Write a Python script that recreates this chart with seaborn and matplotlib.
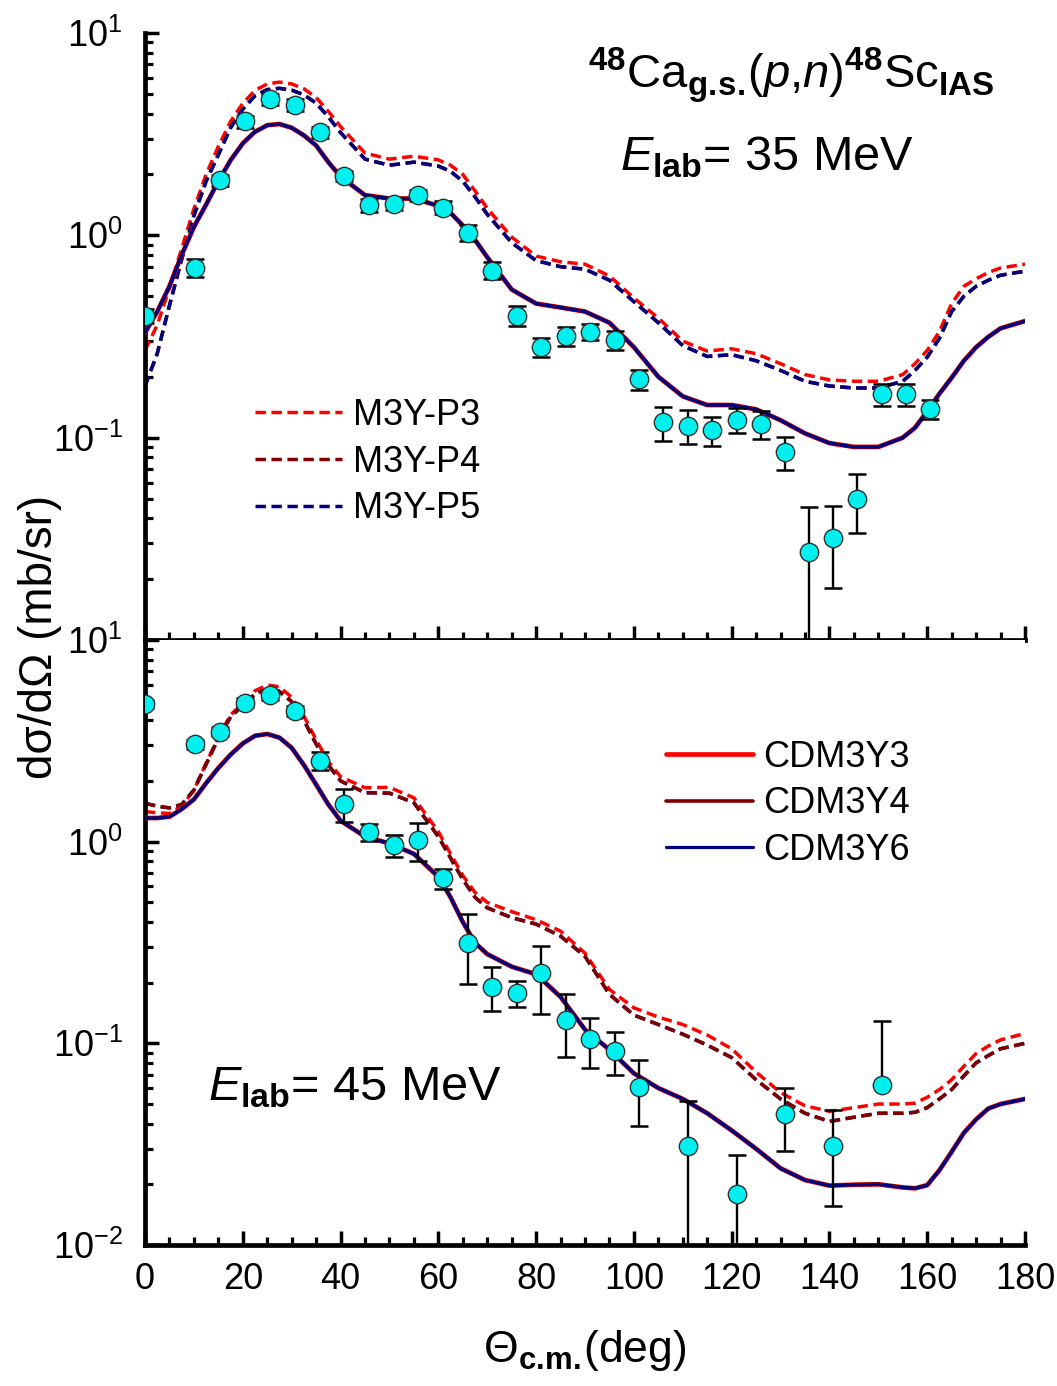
import numpy as np
import pandas as pd
import matplotlib
matplotlib.use('Agg')
import matplotlib.pyplot as plt
import seaborn as sns
from matplotlib.ticker import FixedLocator, LogLocator, NullFormatter, MultipleLocator, FixedFormatter
from matplotlib.lines import Line2D

sns.set_theme(style='ticks')
plt.rcParams['font.family'] = ['Liberation Sans', 'DejaVu Sans']
plt.rcParams['mathtext.fontset'] = 'custom'
plt.rcParams['mathtext.rm'] = 'Liberation Sans'
plt.rcParams['mathtext.it'] = 'Liberation Sans:italic'
plt.rcParams['mathtext.bf'] = 'Liberation Sans:bold'
plt.rcParams['text.color'] = 'black'

# ---------------- data: 35 MeV (top panel) ----------------
theta_35 = [0.0, 10.2, 15.3, 20.4, 25.5, 30.6, 35.7, 40.8, 45.8, 50.9, 55.9, 61.0,
            66.0, 71.0, 76.1, 81.1, 86.1, 91.1, 96.1, 101.1, 106.0, 111.0, 116.0,
            121.0, 125.9, 130.9, 135.8, 140.8, 145.7, 150.7, 155.6, 160.5]
xs_35 = [0.40, 0.69, 1.87, 3.66, 4.70, 4.40, 3.24, 1.97, 1.41, 1.43, 1.58, 1.37,
         1.03, 0.67, 0.40, 0.28, 0.318, 0.333, 0.304, 0.195, 0.119, 0.1146, 0.109,
         0.1225, 0.117, 0.0848, 0.0273, 0.0321, 0.0498, 0.164, 0.164, 0.139]
err_35 = [0.03, 0.07, 0.12, 0.25, 0.30, 0.30, 0.20, 0.12, 0.10, 0.10, 0.10, 0.10,
          0.09, 0.065, 0.045, 0.03, 0.033, 0.03, 0.034, 0.022, 0.0226, 0.022, 0.018,
          0.017, 0.018, 0.0155, 0.018, 0.014, 0.016, 0.02, 0.02, 0.015]

# ---------------- data: 45 MeV (bottom panel) ----------------
theta_45 = [0.0, 10.2, 15.3, 20.4, 25.5, 30.6, 35.7, 40.8, 45.8, 50.9, 55.9, 61.0,
            66.0, 71.0, 76.1, 81.1, 86.1, 91.1, 96.1, 101.1, 111.0, 121.0, 130.9,
            140.8, 150.7]
xs_45 = [4.82, 3.04, 3.51, 4.89, 5.33, 4.46, 2.52, 1.54, 1.12, 0.963, 1.02, 0.659,
         0.316, 0.191, 0.177, 0.222, 0.1306, 0.1047, 0.092, 0.061, 0.0308, 0.0179,
         0.0447, 0.0311, 0.0622]
err_45_lo = [0.2, 0.15, 0.18, 0.25, 0.3, 0.25, 0.25, 0.29, 0.11, 0.12, 0.22, 0.075,
             0.12, 0.047, 0.026, 0.083, 0.045, 0.029, 0.022, 0.022, 0.0212, 0.0101,
             0.0153, 0.0155, 0.0]
err_45_hi = [0.2, 0.15, 0.18, 0.25, 0.3, 0.25, 0.25, 0.29, 0.11, 0.12, 0.22, 0.075,
             0.12, 0.047, 0.026, 0.083, 0.045, 0.029, 0.022, 0.022, 0.0212, 0.0101,
             0.0153, 0.0155, 0.0664]

# ---------------- model curves ----------------
theta_c = [0, 2.5, 5, 7.5, 10, 12.5, 15, 17.5, 20, 22.5, 25, 27.5, 30, 32.5, 35, 37.5,
           40, 45, 50, 55, 60, 62.5, 65, 67.5, 70, 75, 80, 85, 90, 95, 100, 105, 110,
           115, 120, 125, 130, 135, 140, 145, 150, 155, 157.5, 160, 162.5, 165, 167.5,
           170, 172.5, 175, 180]

# 35 MeV
p3_35 = [0.27, 0.36, 0.55, 0.86, 1.35, 2.0, 2.75, 3.65, 4.50, 5.20, 5.60, 5.72, 5.60,
         5.30, 4.80, 4.10, 3.45, 2.55, 2.38, 2.46, 2.36, 2.22, 2.00, 1.66, 1.36, 0.98,
         0.79, 0.74, 0.72, 0.63, 0.49, 0.39, 0.30, 0.268, 0.275, 0.26, 0.232, 0.205,
         0.193, 0.19, 0.19, 0.205, 0.232, 0.27, 0.335, 0.46, 0.56, 0.61, 0.655, 0.69,
         0.72]
p4_35 = [0.18, 0.26, 0.45, 0.76, 1.25, 1.85, 2.50, 3.40, 4.20, 4.90, 5.25, 5.33, 5.22,
         4.95, 4.50, 3.85, 3.22, 2.38, 2.22, 2.30, 2.20, 2.07, 1.85, 1.55, 1.27, 0.92,
         0.75, 0.70, 0.68, 0.60, 0.47, 0.37, 0.285, 0.252, 0.257, 0.24, 0.215, 0.19,
         0.18, 0.176, 0.176, 0.19, 0.215, 0.25, 0.31, 0.42, 0.50, 0.56, 0.60, 0.635,
         0.665]
p5_35 = [0.18, 0.26, 0.45, 0.76, 1.25, 1.85, 2.50, 3.40, 4.20, 4.90, 5.25, 5.33, 5.22,
         4.95, 4.50, 3.85, 3.22, 2.38, 2.22, 2.30, 2.20, 2.07, 1.85, 1.55, 1.27, 0.92,
         0.75, 0.70, 0.68, 0.60, 0.47, 0.37, 0.285, 0.252, 0.257, 0.24, 0.215, 0.19,
         0.18, 0.176, 0.176, 0.19, 0.215, 0.25, 0.31, 0.42, 0.50, 0.56, 0.60, 0.635,
         0.665]
cdm3y3_35 = [0.33, 0.42, 0.56, 0.80, 1.10, 1.42, 1.85, 2.35, 2.85, 3.25, 3.50, 3.55,
             3.40, 3.12, 2.78, 2.30, 1.95, 1.58, 1.52, 1.52, 1.40, 1.29, 1.12, 0.95,
             0.78, 0.54, 0.46, 0.44, 0.42, 0.37, 0.28, 0.20, 0.160, 0.145, 0.145,
             0.138, 0.122, 0.105, 0.094, 0.090, 0.090, 0.100, 0.112, 0.135, 0.165,
             0.198, 0.24, 0.28, 0.315, 0.347, 0.377]
cdm3y4_35 = list(cdm3y3_35)
cdm3y6_35 = list(cdm3y3_35)

# 45 MeV
p3_45 = [1.41, 1.39, 1.38, 1.50, 1.80, 2.45, 3.30, 4.25, 4.85, 5.60, 5.98, 5.86, 5.20,
         4.20, 3.20, 2.50, 2.10, 1.85, 1.86, 1.65, 1.12, 0.87, 0.68, 0.56, 0.50, 0.45,
         0.41, 0.36, 0.28, 0.185, 0.150, 0.135, 0.124, 0.110, 0.094, 0.072, 0.057,
         0.049, 0.046, 0.048, 0.050, 0.050, 0.0505, 0.054, 0.059, 0.066, 0.077, 0.089,
         0.097, 0.104, 0.112]
p4_45 = [1.55, 1.50, 1.47, 1.53, 1.80, 2.42, 3.25, 4.15, 4.75, 5.40, 5.70, 5.55, 4.95,
         4.00, 3.05, 2.40, 2.00, 1.75, 1.74, 1.56, 1.06, 0.83, 0.65, 0.53, 0.47, 0.42,
         0.39, 0.34, 0.27, 0.175, 0.138, 0.124, 0.111, 0.098, 0.085, 0.066, 0.053,
         0.045, 0.041, 0.043, 0.045, 0.045, 0.0455, 0.048, 0.053, 0.059, 0.069, 0.080,
         0.087, 0.094, 0.100]
p5_45 = list(p4_45)
cdm3y3_45 = [1.31, 1.31, 1.33, 1.45, 1.62, 1.95, 2.32, 2.70, 3.07, 3.35, 3.42, 3.28,
             2.92, 2.40, 1.92, 1.53, 1.27, 1.06, 0.98, 0.87, 0.67, 0.53, 0.40, 0.315,
             0.277, 0.24, 0.22, 0.17, 0.117, 0.093, 0.071, 0.060, 0.053, 0.045, 0.037,
             0.030, 0.024, 0.021, 0.0197, 0.0199, 0.0200, 0.0193, 0.0191, 0.0198,
             0.0235, 0.029, 0.036, 0.042, 0.0475, 0.050, 0.053]
cdm3y4_45 = list(cdm3y3_45)
cdm3y6_45 = list(cdm3y3_45)

labels_dash = ['M3Y-P3', 'M3Y-P4', 'M3Y-P5']
labels_solid = ['CDM3Y3', 'CDM3Y4', 'CDM3Y6']
xticks = [0, 20, 40, 60, 80, 100, 120, 140, 160, 180]

RED = '#FF0000'
DRED = '#800000'
NAVY = '#000080'
CYAN = '#00F0F0'
DASH = (0, (3.0, 1.6))

W, H = 1057, 1386
fig = plt.figure(figsize=(W / 100, H / 100), dpi=100)
L, R = 145, 1025
ax1 = fig.add_axes([L / W, 1 - 640 / H, (R - L) / W, (640 - 33) / H])
ax2 = fig.add_axes([L / W, 1 - 1245 / H, (R - L) / W, (1245 - 640) / H])


def draw_panel(ax, p3, p4, p5, c3, c4, c6, dash_order):
    df = pd.DataFrame({'theta': theta_c, 'P3': p3, 'P4': p4, 'P5': p5,
                       'C3': c3, 'C4': c4, 'C6': c6})
    dstyles = {'P3': RED, 'P4': DRED, 'P5': NAVY}
    for key in dash_order:
        sns.lineplot(data=df, x='theta', y=key, ax=ax, color=dstyles[key], lw=2.5,
                     linestyle=DASH, sort=False, estimator=None, legend=False, zorder=2)
    sns.lineplot(data=df, x='theta', y='C3', ax=ax, color=RED, lw=3.4, sort=False,
                 estimator=None, legend=False, zorder=3)
    sns.lineplot(data=df, x='theta', y='C4', ax=ax, color=DRED, lw=2.6, sort=False,
                 estimator=None, legend=False, zorder=3)
    sns.lineplot(data=df, x='theta', y='C6', ax=ax, color=NAVY, lw=2.3, sort=False,
                 estimator=None, legend=False, zorder=3)


def style_axes(ax, show_xlabels, ylabels):
    ax.set_yscale('log')
    ax.set_xlim(0, 180)
    ax.set_ylim(1e-2, 1e1)
    for s in ['top', 'right']:
        ax.spines[s].set_visible(False)
    for s in ['left', 'bottom']:
        ax.spines[s].set_linewidth(3.4)
        ax.spines[s].set_color('black')
    ax.xaxis.set_major_locator(FixedLocator(xticks))
    ax.xaxis.set_minor_locator(MultipleLocator(5))
    ax.yaxis.set_major_locator(FixedLocator([1e-2, 1e-1, 1e0, 1e1]))
    ax.yaxis.set_minor_locator(LogLocator(base=10, subs=np.arange(2, 10)))
    ax.yaxis.set_minor_formatter(NullFormatter())
    ax.yaxis.set_major_formatter(FixedFormatter(ylabels))
    ax.tick_params(axis='both', which='major', direction='in', length=10, width=2.5,
                   labelsize=26, color='black', labelcolor='black')
    ax.tick_params(axis='both', which='minor', direction='in', length=6, width=2.3,
                   color='black')
    ax.tick_params(axis='y', which='major', pad=16)
    ax.tick_params(axis='x', which='major', pad=12, labelbottom=show_xlabels)
    if show_xlabels:
        ax.set_xticklabels([str(v) for v in xticks])
    ax.set_xlabel('')
    ax.set_ylabel('')
    ax.set_facecolor('white')
    ax.grid(False)


def draw_data(ax, x, y, lo, hi):
    ax.errorbar(x, y, yerr=[lo, hi], fmt='none', ecolor='black', elinewidth=1.7,
                capsize=6.5, capthick=1.8, zorder=5)
    sns.scatterplot(x=x, y=y, ax=ax, s=175, color=CYAN, edgecolor='#303030',
                    linewidth=1.0, zorder=6, legend=False)


draw_panel(ax1, p3_35, p4_35, p5_35, cdm3y3_35, cdm3y4_35, cdm3y6_35,
           ['P3', 'P4', 'P5'])
draw_data(ax1, theta_35, xs_35, err_35, err_35)
style_axes(ax1, False, ['', r'$\mathdefault{10^{-1}}$', r'$\mathdefault{10^{0}}$',
                        r'$\mathdefault{10^{1}}$'])

draw_panel(ax2, p3_45, p4_45, p5_45, cdm3y3_45, cdm3y4_45, cdm3y6_45,
           ['P3', 'P5', 'P4'])
draw_data(ax2, theta_45, xs_45, err_45_lo, err_45_hi)
style_axes(ax2, True, [r'$\mathdefault{10^{-2}}$', r'$\mathdefault{10^{-1}}$',
                       r'$\mathdefault{10^{0}}$', r'$\mathdefault{10^{1}}$'])

# legends
h_dash = [Line2D([], [], color=c, lw=2.5, linestyle=DASH) for c in [RED, DRED, NAVY]]
ax1.legend(h_dash, labels_dash, loc='center left', bbox_to_anchor=(0.125, 0.293),
           frameon=False, fontsize=26, handlelength=2.4, handletextpad=0.3,
           labelspacing=0.32, borderpad=0, borderaxespad=0, labelcolor='black')
h_solid = [Line2D([], [], color=RED, lw=3.4), Line2D([], [], color=DRED, lw=2.6),
           Line2D([], [], color=NAVY, lw=2.3)]
ax2.legend(h_solid, labels_solid, loc='center left', bbox_to_anchor=(0.592, 0.729),
           frameon=False, fontsize=26, handlelength=2.4, handletextpad=0.3,
           labelspacing=0.32, borderpad=0, borderaxespad=0, labelcolor='black')

# annotations
fig.text(588 / W, 1 - 88 / H,
         r'$^{\mathbf{48}}$Ca$_{\mathbf{g.\!s.\!}}$($\mathit{p}$,$\mathit{n}$)$^{\mathbf{48}}$Sc$_{\mathbf{IAS}}$',
         fontsize=34, ha='left', va='baseline', color='black')
fig.text(620 / W, 1 - 170 / H, r'$\mathit{E}_{\mathbf{lab}}$= 35 MeV',
         fontsize=35, ha='left', va='baseline', color='black')
fig.text(208 / W, 1 - 1100 / H, r'$\mathit{E}_{\mathbf{lab}}$= 45 MeV',
         fontsize=35, ha='left', va='baseline', color='black')

# axis labels
fig.text(585 / W, 1 - 1362 / H, r'$\Theta_{\mathbf{c.\!m.\!}}$(deg)', fontsize=32,
         ha='center', va='baseline', color='black')
fig.text(40 / W, 1 - 637 / H, 'dσ/dΩ (mb/sr)', fontsize=33, rotation=90,
         ha='center', va='center', color='black')

fig.savefig('out.png', dpi=100, facecolor='white')
